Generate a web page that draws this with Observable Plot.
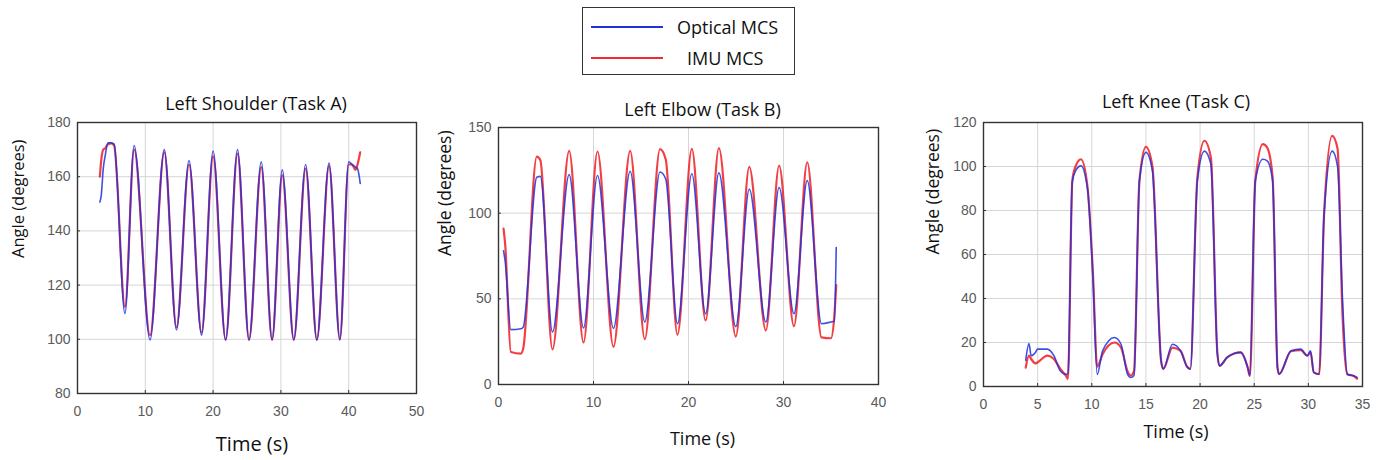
<!DOCTYPE html>
<html>
<head>
<meta charset="utf-8">
<script src="https://cdn.jsdelivr.net/npm/d3@7"></script>
<script src="https://cdn.jsdelivr.net/npm/@observablehq/plot@0.6"></script>
<style>
  body { margin: 0; background: #fff; }
  #root { position: relative; width: 1380px; height: 460px; overflow: hidden; background: #fff; font-family: "Open Sans", sans-serif; }
  .panel { position: absolute; }
  #legend { position: absolute; left: 582px; top: 7px; width: 211px; height: 66px; border: 1.5px solid #333; background: #fff; }
  #legend .row { position: absolute; left: 0; height: 24px; width: 100%; }
  #legend .swatch { position: absolute; left: 8px; width: 72px; height: 2px; top: 11px; }
  #legend .lab { position: absolute; font-size: 18px; color: #111; line-height: 24px; white-space: nowrap; }
</style>
</head>
<body>
<div id="root">
  <div id="legend"></div>
</div>
<script>
// ---------- Legend ----------
const seriesNames = ["Optical MCS", "IMU MCS"];
const seriesColors = ["#1f30e0", "#ef2a30"];

// ---------- Left Shoulder (Task A) ----------
const shoulderTime    = [3.3, 3.5, 3.8, 4.1, 4.5, 5.0, 5.4, 7.0, 8.35, 10.7, 12.8, 14.6, 16.45, 18.3, 20.0, 21.85, 23.6, 25.3, 27.1, 28.7, 30.2, 31.9, 33.65, 35.3, 37.1, 38.7, 40.0, 40.5, 41.0, 41.3, 41.7];
const shoulderOptical = [150.7, 153, 163, 168, 172.5, 172.5, 172, 109.5, 171.5, 99.8, 170, 103.5, 166, 101.5, 169.5, 99.8, 170, 99.8, 165.5, 99.8, 162.5, 99.8, 164.5, 99.8, 165, 99.8, 165.5, 164.5, 163.5, 163, 157.5];
const shoulderIMU     = [160, 166, 170, 170.5, 172, 172.3, 171.5, 112, 170, 101.5, 169, 104.5, 164.5, 102.5, 167.5, 99.8, 168.5, 99.8, 163.5, 99.8, 160.5, 99.8, 163, 99.8, 164, 100, 164.5, 164.5, 162.5, 164.5, 169];
const shoulderXTicks  = [0, 10, 20, 30, 40, 50];
const shoulderYTicks  = [80, 100, 120, 140, 160, 180];

// ---------- Left Elbow (Task B) ----------
const elbowTime    = [0.53, 0.7, 1.3, 2.35, 2.6, 4.03, 4.4, 5.68, 7.44, 8.95, 10.42, 12.1, 13.86, 15.4, 17.0, 17.6, 18.84, 20.35, 21.8, 23.2, 24.98, 26.4, 28.14, 29.54, 31.1, 32.5, 34.0, 35.0, 35.35, 35.55];
const elbowOptical = [78, 72, 32, 32.5, 33.5, 121, 121.5, 30.7, 122.5, 33, 122, 32.8, 124.5, 36.5, 124, 120, 35.5, 123, 41.3, 123.5, 33.8, 114, 36.5, 115, 41.3, 119, 35.5, 36.5, 37, 80];
const elbowIMU     = [91, 82, 19, 18, 21, 133, 131, 20.5, 136.4, 24.5, 136, 22, 136.4, 26.5, 137.4, 131.5, 29, 137.5, 37.4, 138, 28, 127, 31.6, 127.7, 34, 129.6, 27.5, 27, 40, 58];
const elbowXTicks  = [0, 10, 20, 30, 40];
const elbowYTicks  = [0, 50, 100, 150];

// ---------- Left Knee (Task C) ----------
const kneeTime    = [3.9, 4.2, 4.4, 4.8, 5.0, 5.9, 6.5, 7.1, 7.6, 7.8, 8.2, 8.5, 9.0, 9.6, 10.1, 10.5, 11.0, 12.1, 12.7, 13.3, 13.6, 13.9, 14.4, 15.0, 15.6, 16.4, 16.6, 17.45, 18.2, 18.8, 19.1, 19.75, 20.4, 21.0, 21.6, 21.8, 22.5, 23.15, 23.75, 24.4, 24.6, 25.1, 25.8, 26.2, 26.7, 27.15, 27.3, 28.4, 29.3, 29.9, 30.2, 30.5, 31.0, 31.45, 32.2, 32.7, 33.15, 33.6, 34.2, 34.5];
const kneeOptical = [12, 19.5, 14, 15.5, 17, 17, 14, 7, 5.5, 6, 93, 98, 100.3, 90, 50, 5.5, 16.2, 22.3, 19.2, 5.6, 4.1, 5, 93.5, 106.4, 98, 11.7, 8, 19.2, 16.2, 9, 8, 93.5, 107, 101, 14.7, 9.4, 13.2, 15, 15.5, 8.6, 5, 93.5, 103.3, 102.6, 93.5, 8.6, 5.6, 16.2, 17, 14, 16.2, 6.4, 5.6, 78, 107, 100, 40, 5.6, 4.8, 4.1];
const kneeIMU     = [8.6, 14, 12.5, 10.5, 11, 14, 12.5, 8, 5, 3.5, 93.5, 100, 103.3, 91, 52, 9, 14.7, 20, 17.7, 7, 5, 7, 93.5, 108.9, 100, 11.7, 8, 17.7, 16.2, 9, 8, 95, 111.7, 104, 15, 9.4, 13.2, 15, 15.5, 8.6, 4.8, 93.5, 110.2, 108.6, 95, 8.6, 5.6, 16, 16.5, 14, 15.5, 6.4, 5.6, 78, 113.9, 108, 32.9, 5.6, 4.8, 3.5];
const kneeXTicks  = [0, 5, 10, 15, 20, 25, 30, 35];
const kneeYTicks  = [0, 20, 40, 60, 80, 100, 120];

// ---------- Build legend ----------
const legend = document.getElementById("legend");
const legendRows = [{top: 7, labLeft: 94}, {top: 38, labLeft: 104}];
seriesNames.forEach((name, i) => {
  const row = document.createElement("div");
  row.className = "row";
  row.style.top = legendRows[i].top + "px";
  const sw = document.createElement("div");
  sw.className = "swatch";
  sw.style.background = seriesColors[i];
  const lab = document.createElement("div");
  lab.className = "lab";
  lab.style.left = legendRows[i].labLeft + "px";
  lab.textContent = name;
  row.appendChild(sw);
  row.appendChild(lab);
  legend.appendChild(row);
});

// ---------- Panels ----------
function makePanel(cfg) {
  const opt = cfg.time.map((t, i) => ({t, v: cfg.optical[i]}));
  const imu = cfg.time.map((t, i) => ({t, v: cfg.imu[i]}));
  const gridX = cfg.xTicks.slice(1, -1);
  const gridY = cfg.yTicks.slice(1, -1);
  const textFont = "'Open Sans', sans-serif";
  const chart = Plot.plot({
    width: cfg.width,
    height: cfg.height,
    marginLeft: cfg.ml, marginRight: cfg.mr, marginTop: cfg.mt, marginBottom: cfg.mb,
    x: {domain: cfg.xDomain, label: null},
    y: {domain: cfg.yDomain, label: null},
    style: {fontFamily: "'Liberation Sans', Arial, sans-serif", fontSize: "14px", color: "#5a5a5a", background: "transparent", overflow: "visible"},
    marks: [
      Plot.gridX(gridX, {stroke: "#d6d6d6", strokeOpacity: 1}),
      Plot.gridY(gridY, {stroke: "#d6d6d6", strokeOpacity: 1}),
      Plot.lineY(imu, {x: "t", y: "v", stroke: seriesColors[1], strokeOpacity: 0.9, strokeWidth: 2.2, curve: "monotone-x"}),
      Plot.lineY(opt, {x: "t", y: "v", stroke: seriesColors[0], strokeOpacity: 0.85, strokeWidth: 1.6, curve: "monotone-x"}),
      Plot.frame({stroke: "#333", strokeWidth: 1.4}),
      Plot.axisX(cfg.xTicks, {tickSize: -3, tickFormat: () => "", stroke: "#333", label: null}),
      Plot.axisY(cfg.yTicks, {tickSize: -3, tickFormat: () => "", stroke: "#333", label: null}),
      Plot.axisX(cfg.xTicks, {tickSize: 0, tickPadding: 13, fill: "#5a5a5a", label: null}),
      Plot.axisY(cfg.yTicks, {tickSize: 0, tickPadding: 7, fill: "#5a5a5a", label: null}),
      Plot.text([cfg.title], {text: d => d, frameAnchor: "top", dx: cfg.titleDx, dy: cfg.titleDy, fontSize: 18, fill: "#111", fontFamily: textFont}),
      Plot.text(["Time (s)"], {text: d => d, frameAnchor: "bottom", dx: cfg.xlDx, dy: cfg.xlDy, fontSize: cfg.xlSize, fill: "#111", fontFamily: textFont}),
      Plot.text(["Angle (degrees)"], {text: d => d, frameAnchor: "left", dx: cfg.ylDx, rotate: -90, fontSize: cfg.ylSize, fill: "#111", fontFamily: textFont})
    ]
  });
  const wrap = document.createElement("div");
  wrap.className = "panel";
  wrap.style.left = cfg.left + "px";
  wrap.style.top = cfg.top + "px";
  wrap.appendChild(chart);
  document.getElementById("root").appendChild(wrap);
}

makePanel({
  time: shoulderTime, optical: shoulderOptical, imu: shoulderIMU,
  xDomain: [0, 50], yDomain: [80, 180], xTicks: shoulderXTicks, yTicks: shoulderYTicks,
  left: 0, top: 80, width: 440, height: 380, ml: 77, mr: 24, mt: 42, mb: 67,
  title: "Left Shoulder (Task A)", titleDx: 9, titleDy: -25, xlDx: 5, xlDy: 57, ylDx: -59,
  xlSize: 20, ylSize: 16.5
});
makePanel({
  time: elbowTime, optical: elbowOptical, imu: elbowIMU,
  xDomain: [0, 40], yDomain: [0, 150], xTicks: elbowXTicks, yTicks: elbowYTicks,
  left: 430, top: 80, width: 460, height: 380, ml: 68, mr: 12, mt: 47, mb: 76,
  title: "Left Elbow (Task B)", titleDx: 14, titleDy: -24, xlDx: 14, xlDy: 60, ylDx: -53,
  xlSize: 18, ylSize: 17.5
});
makePanel({
  time: kneeTime, optical: kneeOptical, imu: kneeIMU,
  xDomain: [0, 35], yDomain: [0, 120], xTicks: kneeXTicks, yTicks: kneeYTicks,
  left: 900, top: 80, width: 480, height: 380, ml: 83, mr: 18, mt: 42, mb: 74,
  title: "Left Knee (Task C)", titleDx: 3, titleDy: -27, xlDx: 3, xlDy: 51, ylDx: -50,
  xlSize: 18, ylSize: 17.5
});
</script>
</body>
</html>
